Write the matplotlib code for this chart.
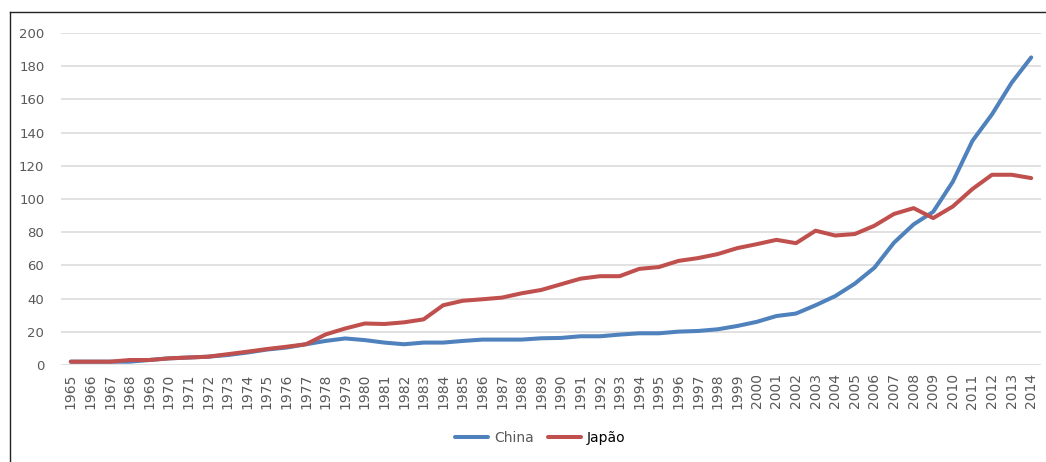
import matplotlib.pyplot as plt
from matplotlib.lines import Line2D

years = list(range(1965, 2015))

china = [
    2, 2, 2, 2, 3, 4, 4.5, 5, 6, 7.5,
    9.3, 10.5, 12.5, 14.5, 16, 15, 13.5, 12.5, 13.5, 13.5,
    14.5, 15.3, 15.3, 15.3, 16.1, 16.3, 17.3, 17.3, 18.3, 19.1,
    19.1, 20.1, 20.5, 21.5, 23.5, 26, 29.5, 31, 36, 41.5,
    49, 58.6, 73.7, 84.7, 92.3, 110.4, 135, 151, 170, 185.3,
]
japao = [
    2, 2, 2, 3, 3, 4, 4.5, 5, 6.5, 8,
    9.6, 11, 12.5, 18.4, 22, 25, 24.7, 25.7, 27.5, 36,
    38.7, 39.6, 40.6, 43.2, 45.2, 48.6, 52, 53.5, 53.5, 57.9,
    59, 62.7, 64.4, 66.8, 70.4, 72.8, 75.4, 73.4, 80.9, 78,
    78.9, 83.9, 91, 94.5, 88.5, 95.5, 106, 114.6, 114.6, 112.6,
]

BLUE = '#4F81BD'
RED = '#C0504D'
GREY = '#595959'

fig = plt.figure(figsize=(10.46, 4.62), dpi=100)
ax = fig.add_axes([61 / 1046, 1 - 365 / 462, (1041 - 61) / 1046, (365 - 33) / 462])

x = range(len(years))
ax.plot(x, china, color=BLUE, lw=2.9, solid_capstyle='round', label='China', zorder=3)
ax.plot(x, japao, color=RED, lw=2.9, solid_capstyle='round', label='Japão', zorder=3)

ax.set_xlim(-0.5, len(years) - 0.5)
ax.set_ylim(0, 200)
ax.set_yticks(range(0, 201, 20))
ax.set_xticks(list(x))
ax.set_xticklabels([str(y) for y in years], rotation=90)
ax.tick_params(axis='y', length=0, labelsize=9.5, colors=GREY, pad=12)
ax.tick_params(axis='x', length=0, labelsize=10, colors=GREY, pad=6)
ax.grid(axis='y', color='#D9D9D9', lw=1.1)
ax.set_axisbelow(True)
for s in ax.spines.values():
    s.set_visible(False)

leg = ax.legend(loc='center', bbox_to_anchor=(540 / 1046, 1 - 438 / 462),
                bbox_transform=fig.transFigure, ncol=2, frameon=False,
                fontsize=10, handlelength=2.4, handletextpad=0.4,
                columnspacing=1.0)
leg.get_texts()[0].set_color(GREY)
leg.get_texts()[1].set_color('#000000')

# outer frame (left and top edges)
fig.add_artist(Line2D([10 / 1046, 10 / 1046], [0, 1 - 12 / 462],
                      transform=fig.transFigure, color='#222222', lw=1.0))
fig.add_artist(Line2D([10 / 1046, 1], [1 - 12 / 462, 1 - 12 / 462],
                      transform=fig.transFigure, color='#222222', lw=1.0))

fig.savefig('out.png', dpi=100)
